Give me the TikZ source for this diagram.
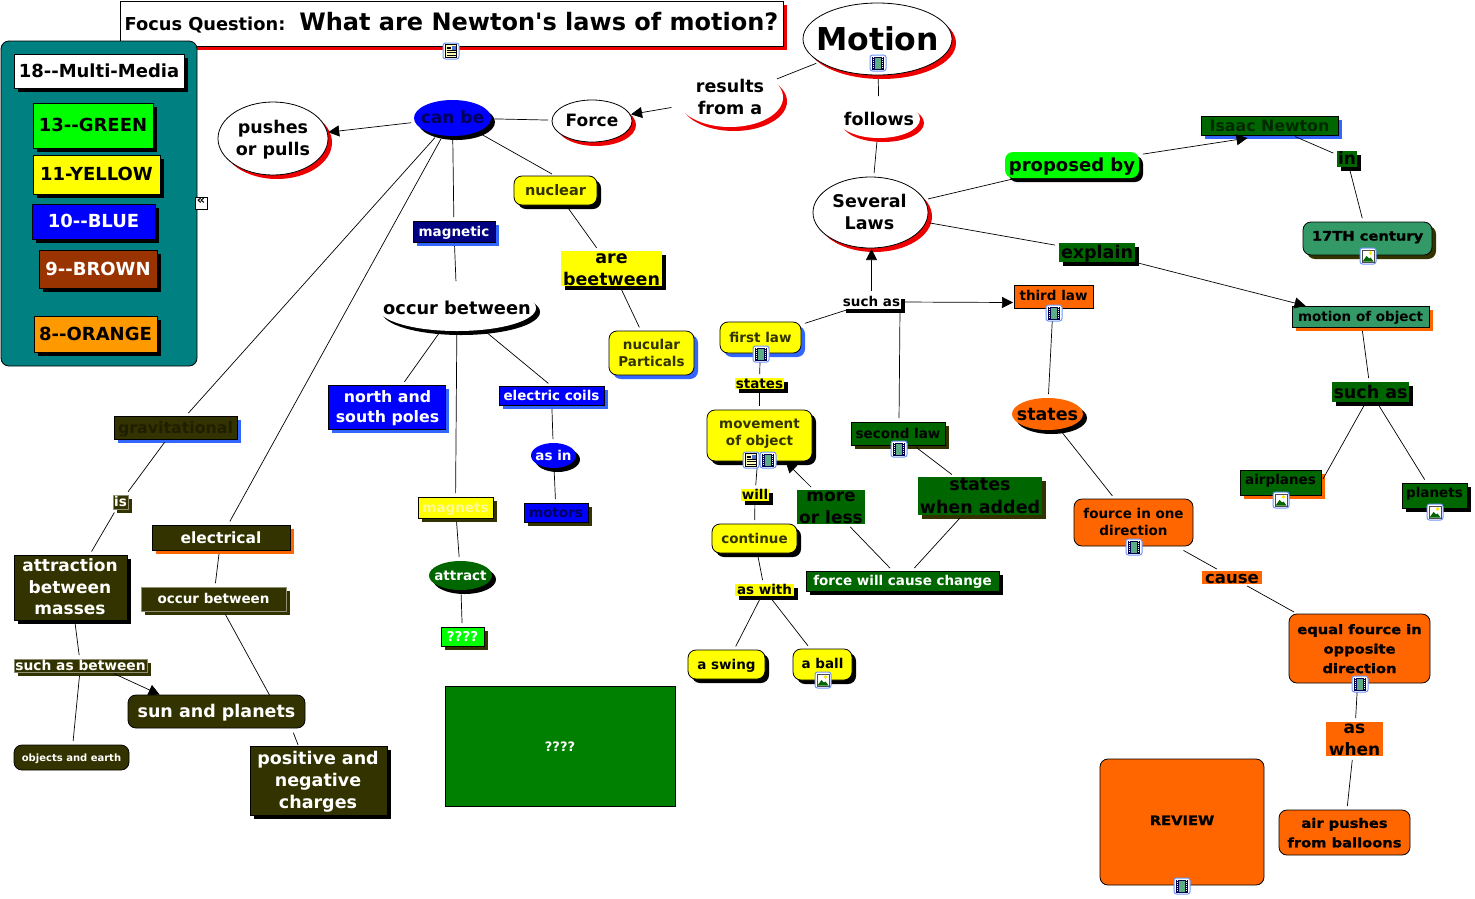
\documentclass[tikz,border=0pt]{standalone}
\usepackage{fontspec}
\setmainfont{DejaVu Sans}[Ligatures=TeXOff]
\newfontfamily\hvy{DejaVu Sans}[Ligatures=TeXOff,UprightFont=* Bold,BoldFont=* Bold,UprightFeatures={FakeBold=1.4,FakeStretch=1.13},BoldFeatures={FakeBold=1.4,FakeStretch=1.13}]
\usetikzlibrary{shapes.geometric,shadows,arrows.meta,calc}
\definecolor{tealc}{HTML}{008080}
\definecolor{limec}{HTML}{00FF00}
\definecolor{yel}{HTML}{FFFF00}
\definecolor{blu}{HTML}{0000FF}
\definecolor{brownc}{HTML}{993300}
\definecolor{orc}{HTML}{FF9900}
\definecolor{orr}{HTML}{FF6600}
\definecolor{navyc}{HTML}{000080}
\definecolor{lblue}{HTML}{3366FF}
\definecolor{oliv}{HTML}{333300}
\definecolor{dgreen}{HTML}{006600}
\definecolor{greenb}{HTML}{008000}
\definecolor{sea}{HTML}{339966}
\definecolor{redc}{HTML}{EE0000}
\newcommand\tdx{0pt}\newcommand\tdy{0pt}
\newcommand\shft[2]{\gdef\tdx{#1pt}\gdef\tdy{#2pt}}
% \nd[style]{name}{x1}{y1}{x2}{y2}{size}{text}; \shft{dx}{dy}: dy>0 raises the text
\newcommand\nd[7][]{\nodeaux{#1}{#2}{#3}{#4}{#5}{#6}{#7}}
\newcommand\nodeaux[8]{%
  \pgfmathsetmacro\ncx{(#3+#5)/2}\pgfmathsetmacro\ncy{(#4+#6)/2}%
  \pgfmathsetmacro\nw{#5-#3}\pgfmathsetmacro\nh{#6-#4}%
  \pgfmathsetmacro\nls{1.27*#7}\pgfmathsetmacro\nlow{0.25*#7+1.5}%
  \node[base,#1,minimum width=\nw pt,minimum height=\nh pt] (#2) at (\ncx,\ncy)
   {\smash{\makebox[0pt]{\hspace*{\tdx}\raisebox{\dimexpr-\nlow pt+\tdy\relax}{\fontsize{#7}{\nls}\selectfont\bfseries\begin{tabular}{@{}c@{}}#8\end{tabular}}}}};%
  \shft{0}{0}}
\tikzset{
  base/.style={draw=none,inner sep=0pt,outer sep=0pt,line width=.8pt,rectangle},
  bd/.style={draw=black},
  lite/.style={draw=oliv!55!white,line width=.5pt},
  rr/.style={rounded corners=8pt},
  ell/.style={ellipse},
  sh/.style={general shadow={fill=#1,shadow xshift=4pt,shadow yshift=-4pt}},
  conn/.style={line width=.7pt,draw=black,shorten <=4pt,shorten >=4pt},
  arr/.style={conn,shorten >=1pt,-{Triangle[length=11pt,width=11pt]}},
  tw/.style={text=white},
  tol/.style={text=oliv},
}
\newcommand\iconbox[2]{\filldraw[draw=lblue!70!white,fill=white,line width=1pt,rounded corners=2.5pt] (#1-8,#2-8) rectangle (#1+8,#2+8);}
\newcommand\film[2]{\iconbox{#1}{#2}
  \fill[black!70!blue] (#1-6,#2-6.5) rectangle (#1+6,#2+6.5);
  \fill[sea!80!white] (#1-3,#2-5.5) rectangle (#1+3,#2+5.5);
  \draw[white,line width=1pt,dash pattern=on 1pt off 1pt] (#1-4.5,#2-6) -- (#1-4.5,#2+6) (#1+4.5,#2-6) -- (#1+4.5,#2+6);}
\newcommand\docic[2]{\iconbox{#1}{#2}
  \filldraw[draw=black,fill=yellow!25,line width=.4pt] (#1-5.5,#2-6.5) rectangle (#1+5.5,#2+6.5);
  \fill[lblue!60!gray] (#1+.5,#2-5.5) rectangle (#1+4.5,#2-1.5);
  \draw[line width=.6pt] (#1-4.5,#2-.5)--(#1+4.5,#2-.5) (#1-4.5,#2+1.7)--(#1+4.5,#2+1.7) (#1-4.5,#2+3.8)--(#1+4.5,#2+3.8) (#1-4.5,#2-4)--(#1-.5,#2-4) (#1-4.5,#2-2.3)--(#1-.5,#2-2.3);}
\newcommand\imgic[2]{\iconbox{#1}{#2}
  \filldraw[draw=black!70,fill=white,line width=.4pt] (#1-6,#2-6) rectangle (#1+6,#2+6);
  \fill[yel!80!orange] (#1+2.5,#2-3) circle (1.8);
  \fill[dgreen] (#1-5.5,#2+5.5) -- (#1-1.5,#2) -- (#1+1,#2+2.5) -- (#1+2.5,#2+1.5) -- (#1+5.5,#2+5.5) -- cycle;}
\begin{document}
\begin{tikzpicture}[x=1pt,y=-1pt]
\useasboundingbox (0,0) rectangle (1475,898);
\fill[white] (0,0) rectangle (1475,898);
% focus
\node[base,bd,fill=white,sh=redc,minimum width=663pt,minimum height=45pt] (focus) at (451.5,23.5)
  {\smash{\makebox[0pt]{\raisebox{-6.5pt}{\bfseries\fontsize{17.8}{20}\selectfont Focus Question:\hspace{14pt}\fontsize{24}{28}\selectfont What are Newton's laws of motion?}}}};
% legend
\nd[bd,rr,fill=tealc]{panel}{1}{41}{197}{366}{10}{}
\nd[bd,fill=white,sh=black]{lega}{14}{54}{184}{88}{18}{18-{}-Multi-Media}
\nd[bd,fill=limec,sh=black]{legb}{33}{103}{153}{148}{18}{13-{}-GREEN}
\nd[bd,fill=yel,sh=black]{legc}{33}{155}{160}{194}{18}{11-YELLOW}
\nd[bd,fill=blu,sh=black,tw]{legd}{32}{204}{155}{239}{18}{10-{}-BLUE}
\nd[bd,fill=brownc,sh=black,tw]{lege}{39}{250}{157}{288}{18}{9-{}-BROWN}
\nd[bd,fill=orc,sh=black]{legf}{34}{316}{157}{352}{18}{8-{}-ORANGE}
\node[base,bd,fill=white,minimum width=12pt,minimum height=12pt,font=\bfseries\fontsize{13}{13}\selectfont] (coll) at (201,203) {\smash{\raisebox{-1pt}{«}}};
% left cluster
\nd[bd,ell,fill=white,sh=redc]{pushes}{218}{102}{328}{175}{17.5}{pushes\\or pulls}
\nd[ell,fill=blu,sh=black,text=navyc!70!black]{canbe}{414}{100}{491}{136}{17}{can be}
\nd[bd,ell,fill=white,sh=redc]{force}{552}{100}{632}{142}{17}{Force}
\nd[ell,fill=white,sh=redc]{results}{677}{68}{783}{127}{17.5}{results\\from a}
\nd[bd,ell,fill=white,sh=redc]{motion}{803}{3}{952}{75}{31.5}{Motion}
\nd[ell,fill=white,sh=redc]{follows}{838}{100}{920}{138}{17.5}{follows}
\shft{-2}{0}\nd[bd,ell,fill=white,sh=redc]{several}{813}{177}{928}{248}{17.5}{Several\\Laws}
\nd[rr,fill=limec,sh=black]{proposed}{1005}{152}{1139}{178}{18}{proposed by}
\nd[bd,fill=dgreen,sh=lblue,text=black!60!dgreen]{isaac}{1201}{116}{1338}{135}{15.8}{Isaac Newton}
\nd[fill=dgreen,sh=black]{in}{1337}{151}{1357}{167}{17}{in}
\shft{0}{3}\nd[bd,rr,fill=sea,sh=oliv]{century}{1303}{222}{1432}{255}{13}{{\hvy 17TH century}}
\nd[fill=dgreen,sh=black]{explain}{1059}{243}{1135}{262}{17.5}{explain}
\nd[bd,fill=sea,sh=orr]{motionobj}{1292}{306}{1429}{327}{13.5}{motion of object}
\shft{0}{1}\nd[bd,fill=orr]{third}{1014}{285}{1093}{308}{13.5}{third law}
\nd[ell,fill=orr,sh=black]{statesb}{1012}{398}{1083}{430}{17.5}{states}
\nd[fill=dgreen,sh=black]{suchr}{1332}{382}{1409}{402}{17.5}{such as}
\shft{0}{3}\nd[bd,fill=dgreen,sh=orr]{airplanes}{1240}{470}{1321}{495}{13.5}{airplanes}
\shft{0}{3}\nd[bd,fill=dgreen,sh=black]{planets}{1402}{483}{1467}{508}{13.5}{planets}
\nd[bd,rr,fill=orr]{fource}{1074}{499}{1193}{546}{13.5}{fource in one\\direction}
\nd[fill=orr]{cause}{1202}{571}{1262}{584}{16.5}{cause}
\nd[bd,rr,fill=orr]{equal}{1289}{614}{1430}{683}{13}{{\hvy equal fource in}\\[3pt]{\hvy opposite}\\[3pt]{\hvy direction}}
\nd[fill=orr]{aswhen}{1326}{722}{1383}{756}{17}{as\\when}
\nd[bd,rr,fill=orr]{air}{1279}{810}{1410}{855}{13}{{\hvy air pushes}\\[3pt]{\hvy from balloons}}
\shft{0}{2}\nd[bd,rr,fill=orr]{review}{1100}{759}{1264}{885}{13}{{\hvy REVIEW}}
\nd[bd,fill=greenb,tw]{bigq}{445}{686}{675}{806}{13}{????}
\nd[rr,bd,fill=yel,sh=black,tol]{nuclear}{514}{176}{597}{205}{14.5}{nuclear}
\nd[bd,fill=navyc,sh=lblue,tw]{magnetic}{413}{221}{495}{242}{13.5}{magnetic}
\nd[fill=yel,sh=black]{are}{561}{251}{662}{286}{17.5}{are\\beetween}
\nd[bd,rr,fill=yel,sh=lblue,tol]{nucular}{609}{331}{694}{375}{13.5}{nucular\\Particals}
\nd[ell,fill=white,sh=black]{occur}{378}{285}{536}{331}{17.8}{occur between}
\shft{2}{0}\nd[bd,fill=blu,sh=lblue,tw]{north}{328}{385}{445}{429}{15.8}{north and\\south poles}
\nd[bd,fill=blu,sh=lblue,tw]{coils}{499}{386}{604}{405}{13.5}{electric coils}
\nd[ell,fill=blu,sh=black,tw]{asin}{531}{443}{576}{468}{13.5}{as in}
\nd[bd,fill=blu,sh=oliv,text=navyc!70!black]{motors}{524}{503}{588}{522}{13.5}{motors}
\nd[bd,fill=yel,sh=oliv,text=yellow!40!white]{magnets}{418}{497}{493}{518}{13.5}{magnets}
\nd[ell,fill=dgreen,sh=black,tw]{attract}{429}{561}{492}{590}{13.5}{attract}
\nd[bd,fill=limec,sh=oliv,tw]{qq}{441}{627}{484}{646}{13.5}{????}
\nd[bd,fill=oliv,sh=lblue,text=oliv!60!black]{grav}{114}{416}{237}{439}{15.8}{gravitational}
\nd[lite,fill=oliv,sh=oliv,tw]{is}{113}{495}{128}{509}{13.5}{is}
\nd[bd,fill=oliv,sh=orr,tw]{electrical}{152}{525}{290}{550}{15.5}{electrical}
\shft{-1}{0}\nd[bd,fill=oliv,sh=black,tw]{attraction}{14}{555}{127}{620}{17}{attraction\\between\\masses}
\nd[lite,fill=oliv,sh=oliv,tw]{occurb}{141}{587}{286}{611}{13.5}{occur between}
\nd[lite,fill=oliv,sh=oliv,tw]{suchbetw}{14}{659}{147}{672}{13.8}{such as between}
\nd[rr,bd,fill=oliv,tw]{sun}{128}{695}{305}{728}{17.5}{sun and planets}
\nd[rr,bd,fill=oliv,tw]{objects}{14}{745}{129}{770}{10}{objects and earth}
\shft{-1}{0}\nd[bd,fill=oliv,sh=black,tw]{positive}{250}{746}{387}{815}{17.5}{positive and\\negative\\charges}
% laws
\nd[bd,rr,fill=yel,sh=lblue,tol]{first}{720}{322}{801}{353}{13.5}{first law}
\nd[fill=yel,sh=black]{statesa}{735}{378}{784}{389}{13.5}{states}
\shft{0}{3}\nd[bd,rr,fill=yel,sh=black,tol]{movement}{707}{410}{812}{461}{13.5}{movement\\of object}
\nd[fill=yel,sh=black]{will}{741}{489}{769}{501}{13.5}{will}
\nd[bd,rr,fill=yel,sh=black,tol]{continue}{712}{524}{797}{553}{13.5}{continue}
\nd[fill=yel,sh=black]{aswith}{735}{584}{794}{596}{13.5}{as with}
\nd[bd,rr,fill=yel,sh=black]{swing}{688}{650}{765}{679}{13.5}{a swing}
\shft{0}{1}\nd[bd,rr,fill=yel,sh=black]{ball}{793}{649}{852}{680}{13.5}{a ball}
\nd[fill=white,sh=black]{suchtop}{842}{295}{901}{309}{13.5}{such as}
\nd[bd,fill=dgreen,sh=oliv]{second}{851}{422}{945}{445}{13.5}{second law}
\nd[fill=dgreen]{moreless}{797}{490}{865}{524}{17}{more\\or less}
\nd[fill=dgreen,sh=oliv]{stateswhen}{918}{477}{1042}{515}{17.5}{states\\when added}
\nd[bd,fill=dgreen,sh=black,tw]{forcewill}{806}{571}{999}{591}{13.5}{force will cause change}
% connectors
\draw[conn] (motion)--(results);
\draw[arr,shorten <=8pt] (results)--(force);
\draw[conn] (force)--(canbe);
\draw[arr] (canbe)--(pushes);
\draw[conn] (canbe)--(nuclear.north);
\draw[conn] (nuclear)--(are);
\draw[conn] (are)--(nucular);
\draw[conn] (canbe)--(magnetic);
\draw[conn] (magnetic)--(occur);
\draw[conn] (occur)--(north);
\draw[conn] (occur)--(coils.north);
\draw[conn] (occur)--(magnets);
\draw[conn] (coils)--(asin);
\draw[conn] (asin)--(motors);
\draw[conn] (magnets)--(attract);
\draw[conn] (attract)--(qq);
\draw[conn] (canbe)--(grav);
\draw[conn] (grav)--(is);
\draw[conn] (is)--(attraction);
\draw[conn] (attraction)--(suchbetw);
\draw[arr] ([xshift=30pt]suchbetw.south)--([xshift=-56pt]sun.north);
\draw[conn] (suchbetw)--(objects);
\draw[conn] (canbe)--(electrical);
\draw[conn] (electrical)--(occurb);
\draw[conn,shorten >=0pt] ([xshift=10pt]occurb.south)--([xshift=53pt]sun.north);
\draw[conn,shorten <=5pt,shorten >=1pt] ([xshift=75pt]sun.south)--([xshift=-20pt]positive.north);
\draw[conn] (motion)--(follows);
\draw[conn] (follows)--(several);
\draw[conn] (several)--(proposed);
\draw[arr,shorten >=0pt] (proposed)--([xshift=-22pt,yshift=-3pt]isaac.south);
\draw[conn] (isaac)--(in);
\draw[conn] (in)--(century);
\draw[conn] (several)--(explain);
\draw[arr] (explain)--([xshift=-54pt]motionobj.north);
\draw[conn] (motionobj)--(suchr);
\draw[conn,shorten <=0pt] ([xshift=-4.5pt]suchr.south)--(airplanes.east);
\draw[conn] (suchr)--(planets);
\draw[conn] (third)--(statesb);
\draw[conn] (statesb)--(fource);
\draw[conn,shorten <=9pt] (fource)--(cause);
\draw[conn] (cause)--(equal);
\draw[conn] (equal)--(aswhen);
\draw[conn] (aswhen)--(air);
\draw[arr] (suchtop.north)--(suchtop.north|-several.south);
\draw[arr,shorten <=0pt] (suchtop.east)--([yshift=-6pt]third.west);
\draw[conn] (suchtop)--(first);
\draw[conn,shorten <=0pt] ([xshift=-1pt]suchtop.south east)--([xshift=1pt]second.north);
\draw[conn] (first)--(statesa);
\draw[conn] (statesa)--(movement);
\draw[conn] (movement)--(will);
\draw[conn] (will)--(continue);
\draw[conn] (continue)--(aswith);
\draw[conn] (aswith)--(swing);
\draw[conn] (aswith)--(ball);
\draw[conn] (second)--(stateswhen);
\draw[conn] (stateswhen)--(forcewill);
\draw[conn] (moreless)--(forcewill);
\draw[arr] (moreless)--(movement);
% icons
\docic{451}{51}
\film{878}{63}
\imgic{1368}{256}
\film{1054}{313}
\imgic{1281}{500}
\imgic{1435}{512}
\film{1134}{547}
\film{1360}{684}
\film{1182}{886}
\film{761}{354}
\docic{751}{460}
\film{768}{460}
\imgic{823}{680}
\film{899}{449}
\end{tikzpicture}
\end{document}
